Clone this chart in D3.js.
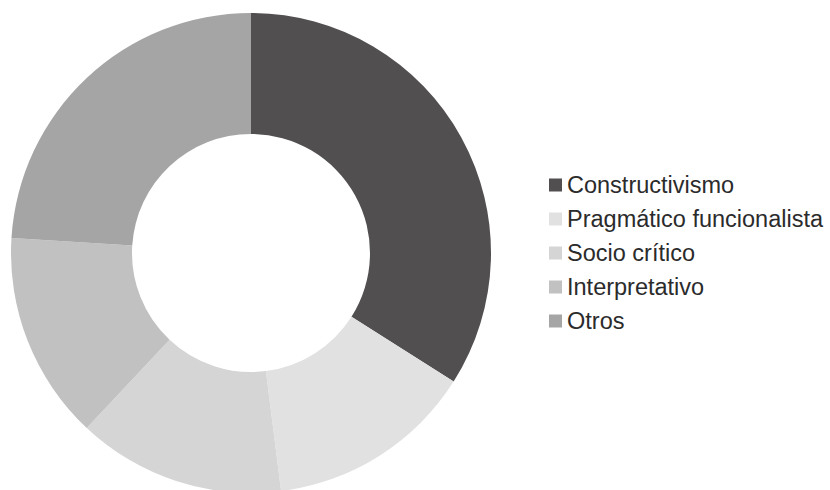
<!DOCTYPE html>
<html><head><meta charset="utf-8">
<script src="https://cdn.jsdelivr.net/npm/d3@7"></script>
<style>body{margin:0;background:#fff}</style>
</head><body>
<svg id="c" width="830" height="490"></svg>
<script>
const categories = ["Constructivismo","Pragmático funcionalista","Socio crítico","Interpretativo","Otros"];
const values = [34, 14, 14, 14, 24];
const colors = ["#524f51","#e1e1e2","#d5d5d6","#c1c1c2","#a5a5a6"];

const svg = d3.select("#c");
const cx = 251, cy = 253, rOuter = 240, rInner = 119;
const pie = d3.pie().sort(null).value(d => d.v);
const arc = d3.arc().innerRadius(rInner).outerRadius(rOuter);
const data = categories.map((c,i)=>({c, v: values[i], col: colors[i]}));
const color = d3.scaleOrdinal().domain(categories).range(colors);

svg.append("g").attr("transform",`translate(${cx},${cy})`)
  .selectAll("path").data(pie(data)).enter().append("path")
  .attr("d", arc).attr("fill", d => color(d.data.c));

const y = d3.scaleBand().domain(categories).range([168, 338]);
const lg = svg.append("g");
const rows = lg.selectAll("g").data(categories).enter().append("g")
  .attr("transform", d => `translate(549,${y(d) + y.bandwidth()/2})`);
rows.append("rect").attr("x",0).attr("y",-6.5).attr("width",13).attr("height",13)
  .attr("fill", d => color(d));
rows.append("text").attr("x",18).attr("y",0).attr("dy","0.35em")
  .style("font-family","'Liberation Sans', Arial, sans-serif").style("font-size","23.5px")
  .attr("fill","#2b2b2b").text(d => d);
</script>
</body></html>
